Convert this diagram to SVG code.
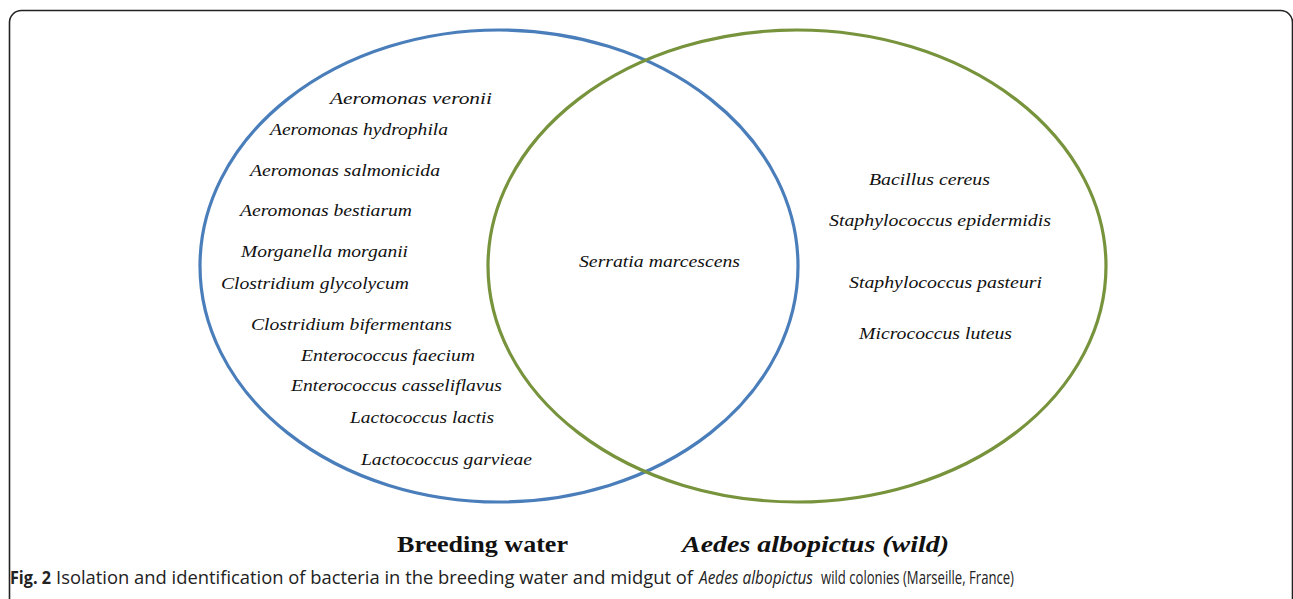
<svg xmlns="http://www.w3.org/2000/svg" width="1293" height="599" viewBox="0 0 1293 599">
<style>
.sp{font-family:"Liberation Serif","DejaVu Serif",serif;font-style:italic;font-size:17px;fill:#111}
.lbl{font-family:"Liberation Serif","Times New Roman",serif;font-weight:bold;font-size:23px;fill:#111}
.cap{font-family:"Open Sans","Liberation Sans",sans-serif;font-size:18px;fill:#222}
.ring{fill:none;stroke-width:3.2}
</style>
<rect id="frame" x="9.5" y="10.5" width="1283" height="640" rx="12" fill="#fff" stroke="#222" stroke-width="1.6"/>
<g id="connectors"></g>
<g id="breeding-water">
<ellipse class="ring" cx="499" cy="266" rx="299" ry="236" stroke="#4A7EBB"/>
<text class="sp" x="330" y="104" textLength="162" lengthAdjust="spacingAndGlyphs">Aeromonas veronii</text>
<text class="sp" x="270" y="135" textLength="178" lengthAdjust="spacingAndGlyphs">Aeromonas hydrophila</text>
<text class="sp" x="250" y="176" textLength="190" lengthAdjust="spacingAndGlyphs">Aeromonas salmonicida</text>
<text class="sp" x="240" y="216" textLength="172" lengthAdjust="spacingAndGlyphs">Aeromonas bestiarum</text>
<text class="sp" x="241" y="257" textLength="167" lengthAdjust="spacingAndGlyphs">Morganella  morganii</text>
<text class="sp" x="221" y="289" textLength="188" lengthAdjust="spacingAndGlyphs">Clostridium glycolycum</text>
<text class="sp" x="251" y="330" textLength="201" lengthAdjust="spacingAndGlyphs">Clostridium bifermentans</text>
<text class="sp" x="301" y="361" textLength="174" lengthAdjust="spacingAndGlyphs">Enterococcus faecium</text>
<text class="sp" x="291" y="391" textLength="211" lengthAdjust="spacingAndGlyphs">Enterococcus casseliflavus</text>
<text class="sp" x="350" y="423" textLength="144" lengthAdjust="spacingAndGlyphs">Lactococcus lactis</text>
<text class="sp" x="361" y="465" textLength="171" lengthAdjust="spacingAndGlyphs">Lactococcus garvieae</text>
</g>
<g id="aedes-albopictus">
<ellipse class="ring" cx="797" cy="266" rx="309" ry="236" stroke="#77933C"/>
<text class="sp" x="869" y="185" textLength="121" lengthAdjust="spacingAndGlyphs">Bacillus cereus</text>
<text class="sp" x="829" y="226" textLength="222" lengthAdjust="spacingAndGlyphs">Staphylococcus epidermidis</text>
<text class="sp" x="849" y="288" textLength="193" lengthAdjust="spacingAndGlyphs">Staphylococcus pasteuri</text>
<text class="sp" x="859" y="339" textLength="153" lengthAdjust="spacingAndGlyphs">Micrococcus luteus</text>
</g>
<g id="shared">
<text class="sp" x="579" y="267" textLength="161" lengthAdjust="spacingAndGlyphs">Serratia marcescens</text>
</g>
<g id="labels">
<text class="lbl" x="397" y="552" textLength="171" lengthAdjust="spacingAndGlyphs">Breeding water</text>
<text class="lbl" x="682" y="552" font-style="italic" textLength="267" lengthAdjust="spacingAndGlyphs">Aedes albopictus (wild)</text>
</g>
<g id="caption">
<text class="cap" x="10" y="584" font-weight="bold" textLength="41" lengthAdjust="spacingAndGlyphs">Fig. 2</text>
<text class="cap" x="56" y="584" textLength="637" lengthAdjust="spacingAndGlyphs">Isolation and identification of bacteria in the breeding water and midgut of</text>
<text class="cap" x="699" y="584" font-style="italic" textLength="114" lengthAdjust="spacingAndGlyphs">Aedes albopictus</text>
<text class="cap" x="821" y="584" textLength="193" lengthAdjust="spacingAndGlyphs">wild colonies (Marseille, France)</text>
</g>
</svg>
